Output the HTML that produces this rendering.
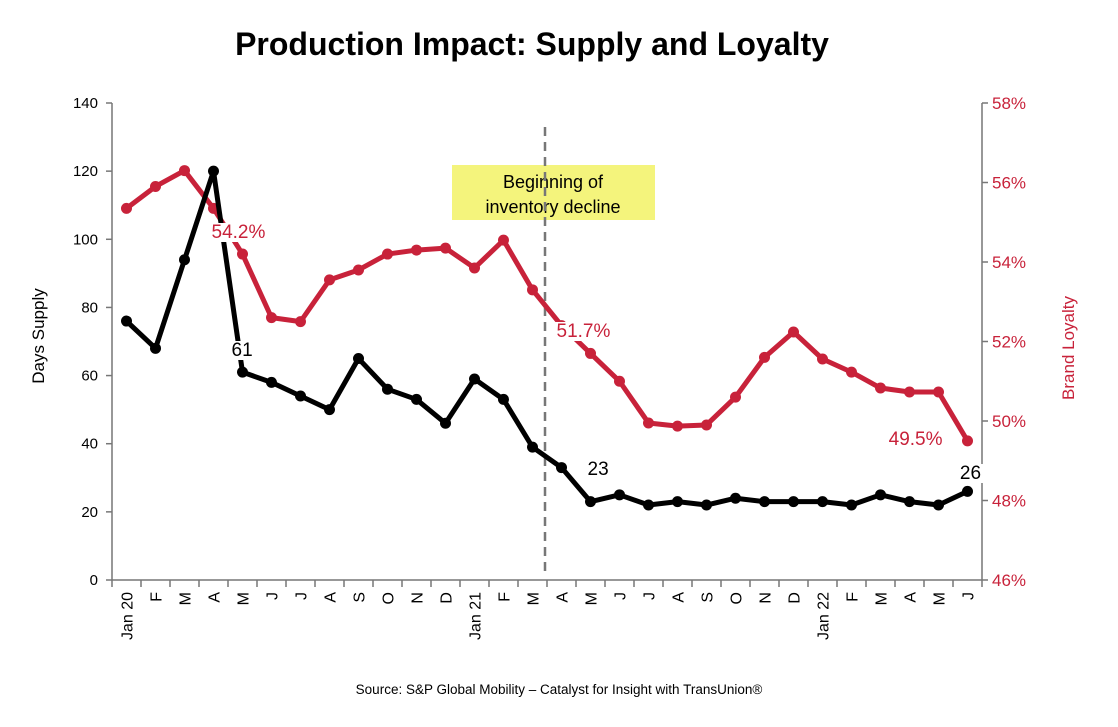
<!DOCTYPE html>
<html><head><meta charset="utf-8"><style>
body{margin:0;background:#fff;font-family:"Liberation Sans",Arial,sans-serif}
svg text{font-family:"Liberation Sans",Arial,sans-serif}
</style></head><body>
<svg id="c" width="1118" height="722" viewBox="0 0 1118 722" xmlns="http://www.w3.org/2000/svg">
<text x="532" y="55" text-anchor="middle" font-size="32" font-weight="bold" fill="#000">Production Impact: Supply and Loyalty</text>
<rect x="452" y="165" width="203" height="55" fill="#f4f47c"/>
<text x="553" y="188" text-anchor="middle" font-size="18">Beginning of</text>
<text x="553" y="213" text-anchor="middle" font-size="18">inventory decline</text>
<line x1="545" y1="127" x2="545" y2="576" stroke="#777" stroke-width="2.5" stroke-dasharray="9,6"/>
<text transform="translate(44,336) rotate(-90)" text-anchor="middle" font-size="17">Days Supply</text>
<text transform="translate(1074,348) rotate(-90)" text-anchor="middle" font-size="17" fill="#c8223a">Brand Loyalty</text>
<text x="559" y="694" text-anchor="middle" font-size="13.5">Source: S&amp;P Global Mobility – Catalyst for Insight with TransUnion®</text>
<g id="g"></g>
</svg>
<script>
const months=["Jan 20","F","M","A","M","J","J","A","S","O","N","D","Jan 21","F","M","A","M","J","J","A","S","O","N","D","Jan 22","F","M","A","M","J"];
const daysSupply=[76,68,94,120,61,58,54,50,65,56,53,46,59,53,39,33,23,25,22,23,22,24,23,23,23,22,25,23,22,26];
const brandLoyalty=[55.35,55.9,56.3,55.35,54.2,52.6,52.5,53.55,53.8,54.2,54.3,54.35,53.85,54.55,53.3,52.4,51.7,51.0,49.95,49.87,49.9,50.6,51.6,52.24,51.56,51.23,50.83,50.73,50.73,49.5];
const leftTicks=[0,20,40,60,80,100,120,140];
const rightTicks=[46,48,50,52,54,56,58];
const NS="http://www.w3.org/2000/svg";
const g=document.getElementById('g');
const X0=112,X1=982,Y0=580,Y1=103,step=(X1-X0)/months.length;
const xs=i=>X0+step*(i+0.5);
const yl=v=>Y0-(v-0)/(140-0)*(Y0-Y1);
const yr=v=>Y0-(v-46)/(58-46)*(Y0-Y1);
function el(t,a,txt){const e=document.createElementNS(NS,t);for(const k in a)e.setAttribute(k,a[k]);if(txt!==undefined)e.textContent=txt;g.appendChild(e);return e;}
let e;
e=el('line',{x1:X0,y1:Y1,x2:X0,y2:Y0,stroke:'#777','stroke-width':1.5});


e=el('line',{x1:X1,y1:Y1,x2:X1,y2:Y0,stroke:'#777','stroke-width':1.5});


e=el('line',{x1:X0,y1:Y0,x2:X1,y2:Y0,stroke:'#777','stroke-width':1.5});


leftTicks.forEach(v=>{
 el('line',{x1:X0-6,y1:yl(v),x2:X0,y2:yl(v),stroke:'#777','stroke-width':1.5});
 e=el('text',{x:X0-14,y:yl(v)+5,'text-anchor':'end','font-size':15},v);
 
 
});
rightTicks.forEach(v=>{
 el('line',{x1:X1,y1:yr(v),x2:X1+6,y2:yr(v),stroke:'#777','stroke-width':1.5});
 e=el('text',{x:X1+10,y:yr(v)+6,'font-size':17,fill:'#c8223a'},v+'%');
 
 
});
for(let i=0;i<=months.length;i++){el('line',{x1:X0+step*i,y1:Y0,x2:X0+step*i,y2:Y0+7,stroke:'#777','stroke-width':1.5});}
months.forEach((m,i)=>{
 e=el('text',{transform:`translate(${xs(i)+6},${Y0+12}) rotate(-90)`,'text-anchor':'end','font-size':16},m);
 
 
});
function series(vals,yf,col,name){
 e=el('polyline',{points:vals.map((v,i)=>xs(i)+','+yf(v)).join(' '),fill:'none',stroke:col,'stroke-width':5,'stroke-linejoin':'round'});
 
 
 vals.forEach((v,i)=>{
  e=el('circle',{cx:xs(i),cy:yf(v),r:5.5,fill:col});
  
  
 });
}
series(brandLoyalty,yr,'#c8223a','brand-loyalty');
series(daysSupply,yl,'#000','days-supply');
function label(txt,x,y,col,anchor){
 const t=el('text',{x:x,y:y,'font-size':19,fill:col,'text-anchor':anchor||'start'},txt);
 const b=t.getBBox();
 const r=document.createElementNS(NS,'rect');
 r.setAttribute('x',b.x-2);r.setAttribute('y',b.y+1);r.setAttribute('width',b.width+4);r.setAttribute('height',b.height-2);r.setAttribute('fill','#fff');
 g.insertBefore(r,t);
 
 
}
label(brandLoyalty[4].toFixed(1)+'%',xs(4)-31,238,'#c8223a');
label(String(daysSupply[4]),xs(4)-11,356,'#000');
label(brandLoyalty[16].toFixed(1)+'%',xs(16)-34,337,'#c8223a');
label(String(daysSupply[16]),xs(16)-3,475,'#000');
label(brandLoyalty[29].toFixed(1)+'%',xs(29)-25,445,'#c8223a','end');
label(String(daysSupply[29]),xs(29)+3,479,'#000','middle');
</script>
</body></html>
